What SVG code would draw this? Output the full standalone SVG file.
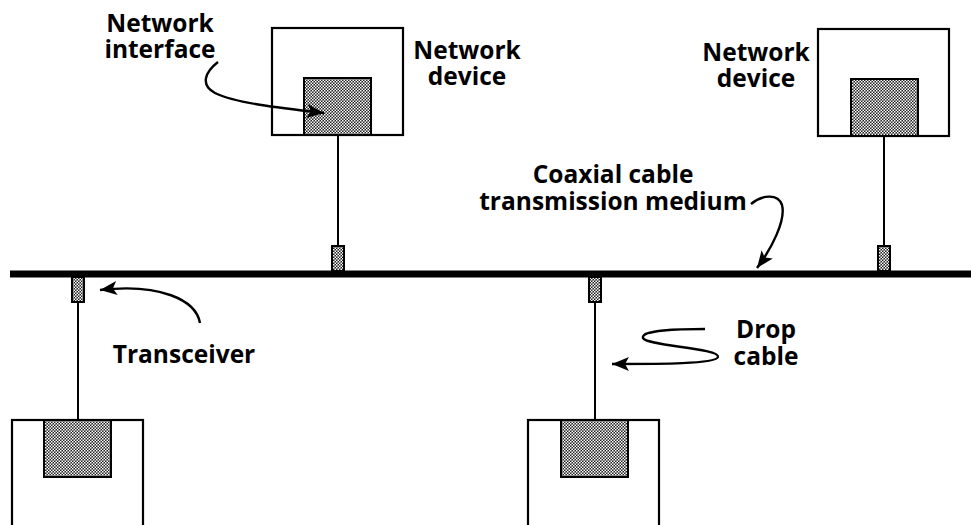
<svg xmlns="http://www.w3.org/2000/svg" width="971" height="525" viewBox="0 0 971 525">
<defs>
<pattern id="dots" width="3" height="3" patternUnits="userSpaceOnUse">
<rect width="3" height="3" fill="#222"/>
<rect x="0" y="0" width="1.5" height="1.5" fill="#fff"/>
<rect x="1.5" y="1.5" width="1.5" height="1.5" fill="#fff"/>
</pattern>
<marker id="ah" markerUnits="userSpaceOnUse" markerWidth="20" markerHeight="16" refX="17" refY="7" orient="auto">
<path d="M0,0 L17,7 L0,14 L4,7 Z" fill="#000"/>
</marker>
<style>
.box{fill:#fff;stroke:#000;stroke-width:2.2}
.nic{fill:url(#dots);stroke:#000;stroke-width:2}
.tx{fill:url(#dots);stroke:#000;stroke-width:2}
.drop{stroke:#000;stroke-width:2;fill:none}
.arr{stroke:#000;stroke-width:2.4;fill:none;marker-end:url(#ah)}
.lbl{font-family:"Open Sans","Liberation Sans",sans-serif;font-weight:700;font-size:24.5px;fill:#000;text-anchor:middle}
</style>
</defs>
<rect width="971" height="525" fill="#fff"/>

<g id="device-top-center">
<rect class="box" x="272" y="28" width="131" height="107"/>
<rect class="nic" x="304" y="78" width="67" height="57"/>
</g>
<g id="device-top-right">
<rect class="box" x="818" y="29" width="131" height="107"/>
<rect class="nic" x="851" y="79" width="67" height="57"/>
</g>
<g id="device-bottom-left">
<rect class="box" x="12" y="420" width="131" height="120"/>
<rect class="nic" x="44" y="420" width="67" height="57"/>
</g>
<g id="device-bottom-center">
<rect class="box" x="528" y="420" width="131" height="120"/>
<rect class="nic" x="561" y="420" width="67" height="57"/>
</g>

<g id="transceiver-1"><rect class="tx" x="332" y="246" width="12" height="25"/></g>
<g id="transceiver-2"><rect class="tx" x="878" y="246" width="12" height="25"/></g>
<g id="transceiver-3"><rect class="tx" x="72" y="277" width="12" height="25"/></g>
<g id="transceiver-4"><rect class="tx" x="589" y="277" width="12" height="25"/></g>

<g id="connectors">
<line x1="10" y1="274" x2="971" y2="274" stroke="#000" stroke-width="7"/>
<line class="drop" x1="338" y1="136" x2="338" y2="245"/>
<line class="drop" x1="884" y1="137" x2="884" y2="245"/>
<line class="drop" x1="78" y1="303" x2="78" y2="419"/>
<line class="drop" x1="595" y1="303" x2="595" y2="419"/>
<path class="arr" d="M218,62 C205,72 200,85 215,93 C235,103 280,108 324,113"/>
<path class="arr" d="M751,204 C762,195 778,193 782,205 C786,220 772,248 757,268"/>
<path class="arr" d="M200,323 C196,300 160,283 100,290"/>
<path class="arr" d="M705,329 C680,329 640,330 643,338 C646,346 720,348 718,357 C716,364 660,364 612,364"/>
</g>

<g id="labels">
<text class="lbl" x="160" y="32">Network</text>
<text class="lbl" x="160" y="58">interface</text>
<text class="lbl" x="467" y="59">Network</text>
<text class="lbl" x="467" y="85">device</text>
<text class="lbl" x="756" y="61">Network</text>
<text class="lbl" x="756" y="87">device</text>
<text class="lbl" x="613" y="183">Coaxial cable</text>
<text class="lbl" x="613" y="210">transmission medium</text>
<text class="lbl" x="184" y="363">Transceiver</text>
<text class="lbl" x="766" y="338">Drop</text>
<text class="lbl" x="766" y="365">cable</text>
</g>
</svg>
